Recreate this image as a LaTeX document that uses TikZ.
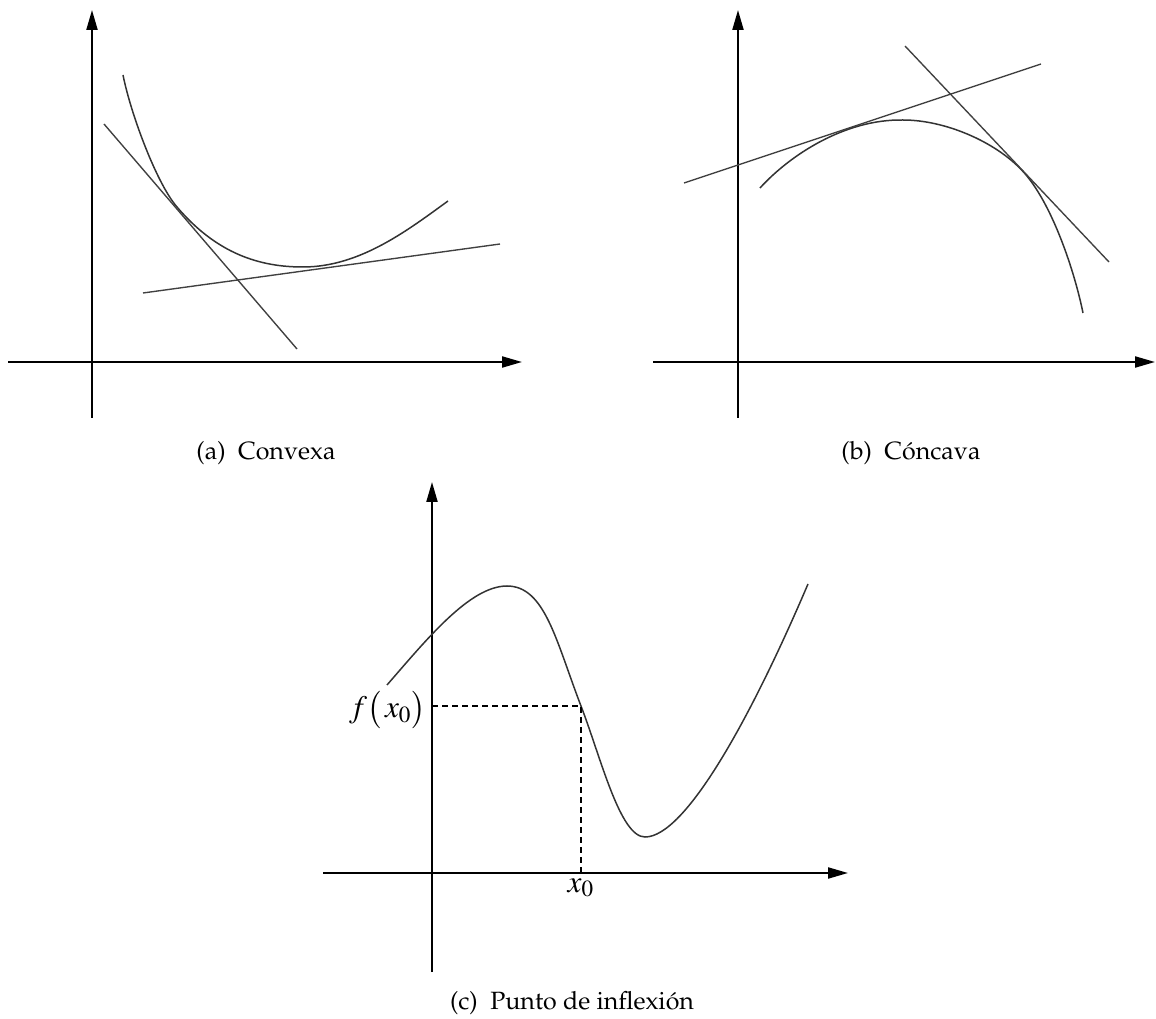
\documentclass[tikz,border=0pt]{standalone}
\usepackage[T1]{fontenc}
\usepackage{mathptmx}
\usetikzlibrary{arrows.meta}

\tikzset{
    >={Triangle[length=8pt,width=4.4pt]},
    axis/.style={->,line width=0.85pt},
    curve/.style={line width=0.6pt,black!80},
    tangent/.style={line width=0.55pt,black!75},
    guide/.style={dash pattern=on 2.4pt off 1.6pt,line width=0.5pt},
    caption/.style={font=\fontfamily{ppl}\selectfont},
    mathlabel/.style={inner sep=1pt,font=\fontsize{12.5}{15}\selectfont}
}

\begin{document}
\begin{tikzpicture}[x=0.4pt,y=-0.4pt]
    \useasboundingbox (0,0) rectangle (1156,1019);

    % (a) convexa
    \coordinate (xa0) at (8,362);
    \coordinate (xa1) at (522,362);
    \coordinate (ya0) at (92,418);
    \coordinate (ya1) at (92,10);

    \draw [axis] (xa0) -- (xa1);
    \draw [axis] (ya0) -- (ya1);

    \coordinate (ta) at (177,207);
    \coordinate (ma) at (303,267);
    \draw [curve] (123,75) .. controls (131,115) and (157,184) .. (ta)
        .. controls (217,254) and (260,267) .. (ma)
        .. controls (360,267) and (408,230) .. (448,201);

    \coordinate (la0) at (104,124);
    \coordinate (la1) at (297,349);
    \coordinate (lb0) at (143,293);
    \coordinate (lb1) at (500,244);
    \draw [tangent] (la0) -- (la1);
    \draw [tangent] (lb0) -- (lb1);

    \node [caption] (capa) at (266,453) {(a)\enspace Convexa};

    % (b) concava
    \coordinate (xb0) at (653,362);
    \coordinate (xb1) at (1155,362);
    \coordinate (yb0) at (738,418);
    \coordinate (yb1) at (738,10);

    \draw [axis] (xb0) -- (xb1);
    \draw [axis] (yb0) -- (yb1);

    \coordinate (mb) at (903,120);
    \coordinate (tb) at (1022,170.4);
    \draw [curve] (760,188) .. controls (790,155) and (845,119) .. (mb)
        .. controls (945,120) and (995,141.6) .. (tb)
        .. controls (1052,202) and (1075,273) .. (1083,313);

    \coordinate (lc0) at (684,183);
    \coordinate (lc1) at (1041,64);
    \coordinate (ld0) at (905,46);
    \coordinate (ld1) at (1109,262);
    \draw [tangent] (lc0) -- (lc1);
    \draw [tangent] (ld0) -- (ld1);

    \node [caption] (capb) at (911,453) {(b)\enspace C\'oncava};

    % (c) punto de inflexion
    \coordinate (xc0) at (323,873);
    \coordinate (xc1) at (848,873);
    \coordinate (yc0) at (432,972);
    \coordinate (yc1) at (432,482);

    \draw [axis] (xc0) -- (xc1);
    \draw [axis] (yc0) -- (yc1);

    % inflection point
    \coordinate (p0) at (581,706);
    \coordinate (fy) at (432,706);
    \coordinate (fx) at (581,873);

    \draw [curve] (387,685) .. controls (427,639) and (470,586) .. (507,586)
        .. controls (545,586) and (556,641) .. (p0)
        .. controls (601,758) and (620,837) .. (645,837)
        .. controls (685,837) and (750,720) .. (808,584);

    \draw [guide] (fy) -- (p0) -- (fx);

    \node [mathlabel,anchor=east] (fxl) at (429,710) {$f\bigl(\,x_0\bigr)$};
    \node [mathlabel,below=1pt] (xl) at (fx) {$x_0$};

    \node [caption] (capc) at (572,1003) {(c)\enspace Punto de inflexi\'on};
\end{tikzpicture}
\end{document}
